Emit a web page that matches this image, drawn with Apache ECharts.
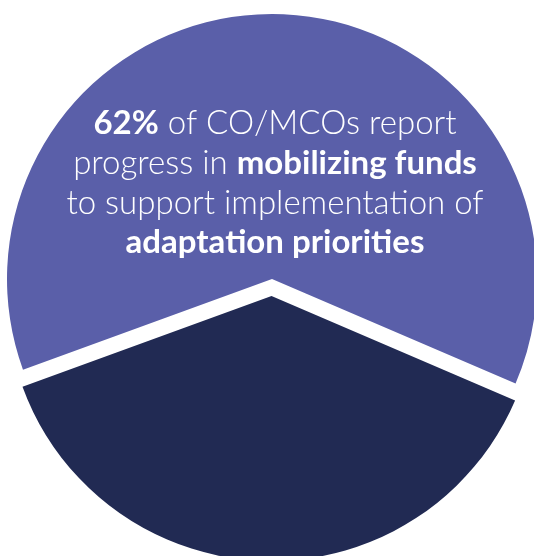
<!DOCTYPE html>
<html>
<head>
<meta charset="utf-8">
<script src="https://cdn.jsdelivr.net/npm/echarts@6/dist/echarts.min.js"></script>
<style>
html,body{margin:0;padding:0;background:#fff;}
#chart{width:534px;height:556px;}
</style>
</head>
<body>
<div id="chart"></div>
<script>
const categories = ['Report progress', 'Other'];
const values = [62, 38];
const colors = ['#5a5fa9', '#212a53'];
const headlineLines = [
  [['b', '62%'], ['n', ' of CO/MCOs report']],
  [['n', 'progress in '], ['b', 'mobilizing funds']],
  [['n', 'to support implementation of']],
  [['b', 'adaptation priorities']]
];

const chart = echarts.init(document.getElementById('chart'), null, {renderer: 'canvas'});
const FS = 33;
const rich = {
  b: {fontFamily: 'Lato', fontWeight: 'bold', fontSize: FS, fill: '#ffffff', color: '#ffffff'},
  n: {fontFamily: 'Lato', fontWeight: 300, fontSize: FS, fill: '#ffffff', color: '#ffffff'}
};
const lineY = [123, 163, 203, 242];

chart.setOption({
  animation: false,
  backgroundColor: '#ffffff',
  graphic: headlineLines.map((line, i) => ({
    type: 'text',
    z: 100,
    silent: true,
    style: {
      x: 275,
      y: lineY[i],
      align: 'center',
      verticalAlign: 'middle',
      text: line.map(([s, t]) => '{' + s + '|' + t + '}').join(''),
      rich: rich,
      fill: '#ffffff'
    }
  })),
  series: [{
    type: 'pie',
    center: [272, 279],
    radius: 265,
    startAngle: 200,
    clockwise: true,
    selectedMode: 'single',
    selectedOffset: 17,
    label: {show: false},
    labelLine: {show: false},
    emphasis: {disabled: true},
    silent: true,
    data: categories.map((c, i) => ({
      name: c,
      value: values[i],
      selected: i === 1,
      itemStyle: {color: colors[i]}
    }))
  }]
});
</script>
</body>
</html>
